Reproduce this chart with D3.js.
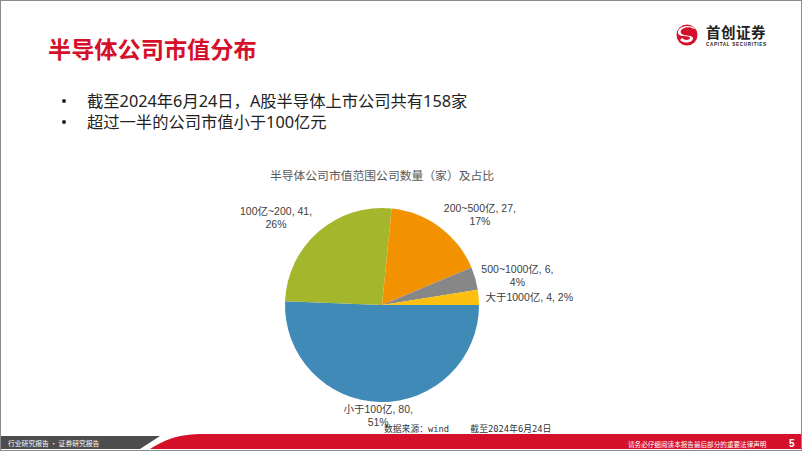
<!DOCTYPE html>
<html><head><meta charset="utf-8">
<script src="https://cdn.jsdelivr.net/npm/d3@7"></script>
<style>html,body{margin:0;padding:0;background:#fff;}svg{display:block;}</style>
</head><body>
<svg id="c" width="802" height="451"></svg>
<script>
// ---- data ----
const categories = ["小于100亿", "100亿~200", "200~500亿", "500~1000亿", "大于1000亿"];
const values = [80, 41, 27, 6, 4];
const percentLabels = ["51%", "26%", "17%", "4%", "2%"];
const colors = ["#3F8AB7", "#A3B62C", "#F39200", "#878787", "#FDC010"];
const bullets = ["截至2024年6月24日，A股半导体上市公司共有158家", "超过一半的公司市值小于100亿元"];
const chartTitle = "半导体公司市值范围公司数量（家）及占比";
const pageTitle = "半导体公司市值分布";

// ---- layout ----
const W = 802, H = 451;
const cx = 382, cy = 305, R = 97;
// label placement: [angle deg clockwise from 12 o'clock, radius factor, two-line?, anchor]
const labelLayout = [
  {a: 182, f: 1.13, two: true, anchor: "middle"},
  {a: 309.7, f: 1.42, two: true, anchor: "middle"},
  {a: 47, f: 1.38, two: true, anchor: "middle"},
  {a: 77.5, f: 1.43, two: true, anchor: "middle"},
  {a: 86.9, f: 1.52, two: false, anchor: "middle"}
];
const CJK = "'Liberation Sans', Arial, 'Noto Sans CJK SC', sans-serif";
const SANS = "'Noto Sans', 'Noto Sans CJK SC', sans-serif";

const svg = d3.select("#c");
svg.append("rect").attr("x",0).attr("y",0).attr("width",W).attr("height",H).attr("fill","#fff");

// header title
svg.append("text").attr("x",48).attr("y",58).attr("font-family","'Noto Sans CJK SC', sans-serif")
  .attr("font-weight","bold").attr("font-size",23.2).attr("fill","#D5102B").text(pageTitle);

// logo
const logo = svg.append("g").attr("transform","translate(687,35)");
logo.append("circle").attr("r",10.5).attr("fill","#D5102B");
logo.append("path").attr("d","M7,-6 C2,-10 -8,-7 -6,-2 C-4,2 7,-1 6,4 C5,8 -3,9 -7,5 L-5,3 C-2,6 3,5 3,3 C3,0 -8,3 -9,-2 C-10,-9 3,-11 8,-7 Z")
  .attr("fill","#fff");
svg.append("text").attr("x",706).attr("y",38).attr("font-family","'Noto Sans CJK SC', sans-serif")
  .attr("font-weight","bold").attr("font-size",14.5).attr("fill","#222").attr("letter-spacing",0.5).text("首创证券");
svg.append("text").attr("x",706).attr("y",45.5).attr("font-family","'Liberation Sans', Arial, sans-serif")
  .attr("font-weight","bold").attr("font-size",4.6).attr("fill","#222").attr("textLength",60).text("CAPITAL SECURITIES");

// bullets
bullets.forEach((b,i)=>{
  const y = 107 + i*21;
  svg.append("circle").attr("cx",64).attr("cy",y-6).attr("r",2).attr("fill","#222");
  svg.append("text").attr("x",87).attr("y",y).attr("font-family",SANS)
    .attr("font-size",16.3).attr("fill","#222").text(b);
});

// chart title
svg.append("text").attr("x",382).attr("y",180).attr("text-anchor","middle")
  .attr("font-family","'Noto Sans CJK SC', sans-serif").attr("font-size",11.8).attr("fill","#595959").text(chartTitle);

// pie
const pie = d3.pie().sort(null).value(d=>d).startAngle(Math.PI/2).endAngle(Math.PI/2 + 2*Math.PI);
const arcs = pie(values);
const arc = d3.arc().innerRadius(0).outerRadius(R);
const g = svg.append("g").attr("transform",`translate(${cx},${cy})`);
g.selectAll("path").data(arcs).join("path").attr("d",arc).attr("fill",(d,i)=>colors[i]);

// labels
arcs.forEach((d,i)=>{
  const L = labelLayout[i];
  const ang = L.a*Math.PI/180;
  const x = Math.sin(ang)*R*L.f, y = -Math.cos(ang)*R*L.f;
  const t = g.append("text").attr("text-anchor",L.anchor).attr("font-family",CJK)
    .attr("font-size",10.5).attr("fill","#404040");
  if (L.two) {
    t.append("tspan").attr("x",x).attr("y",y-2).text(`${categories[i]}, ${values[i]},`);
    t.append("tspan").attr("x",x).attr("y",y+11).text(percentLabels[i]);
  } else {
    t.append("tspan").attr("x",x).attr("y",y+4).text(`${categories[i]}, ${values[i]}, ${percentLabels[i]}`);
  }
});

// source
svg.append("text").attr("x",384).attr("y",432).attr("font-family","'DejaVu Sans Mono', 'Noto Sans CJK SC', monospace")
  .attr("font-size",8.8).attr("fill","#333").attr("xml:space","preserve").text("数据来源：wind    截至2024年6月24日");

// footer
svg.append("path").attr("d","M0,436 L160,436 L140,449 L0,449 Z").attr("fill","#4D4D4D");
svg.append("path").attr("d","M150,449 C165,440 175,435 200,434 L802,434 L802,449 Z").attr("fill","#D5102B");
svg.append("text").attr("x",8).attr("y",446).attr("font-family","'Noto Sans CJK SC', sans-serif")
  .attr("font-size",6.8).attr("fill","#fff").text("行业研究报告 · 证券研究报告");
svg.append("text").attr("x",628).attr("y",446.5).attr("font-family","'Noto Sans CJK SC', sans-serif")
  .attr("font-size",6.6).attr("fill","#fff").text("请务必仔细阅读本报告最后部分的重要法律声明");
svg.append("text").attr("x",789).attr("y",447).attr("font-family","'Liberation Sans', Arial, sans-serif")
  .attr("font-weight","bold").attr("font-size",10).attr("fill","#fff").text("5");

// slide border
svg.append("rect").attr("x",0.5).attr("y",0.5).attr("width",W-1).attr("height",H-1)
  .attr("fill","none").attr("stroke","#8C8C8C").attr("stroke-width",1);
</script>
</body></html>
